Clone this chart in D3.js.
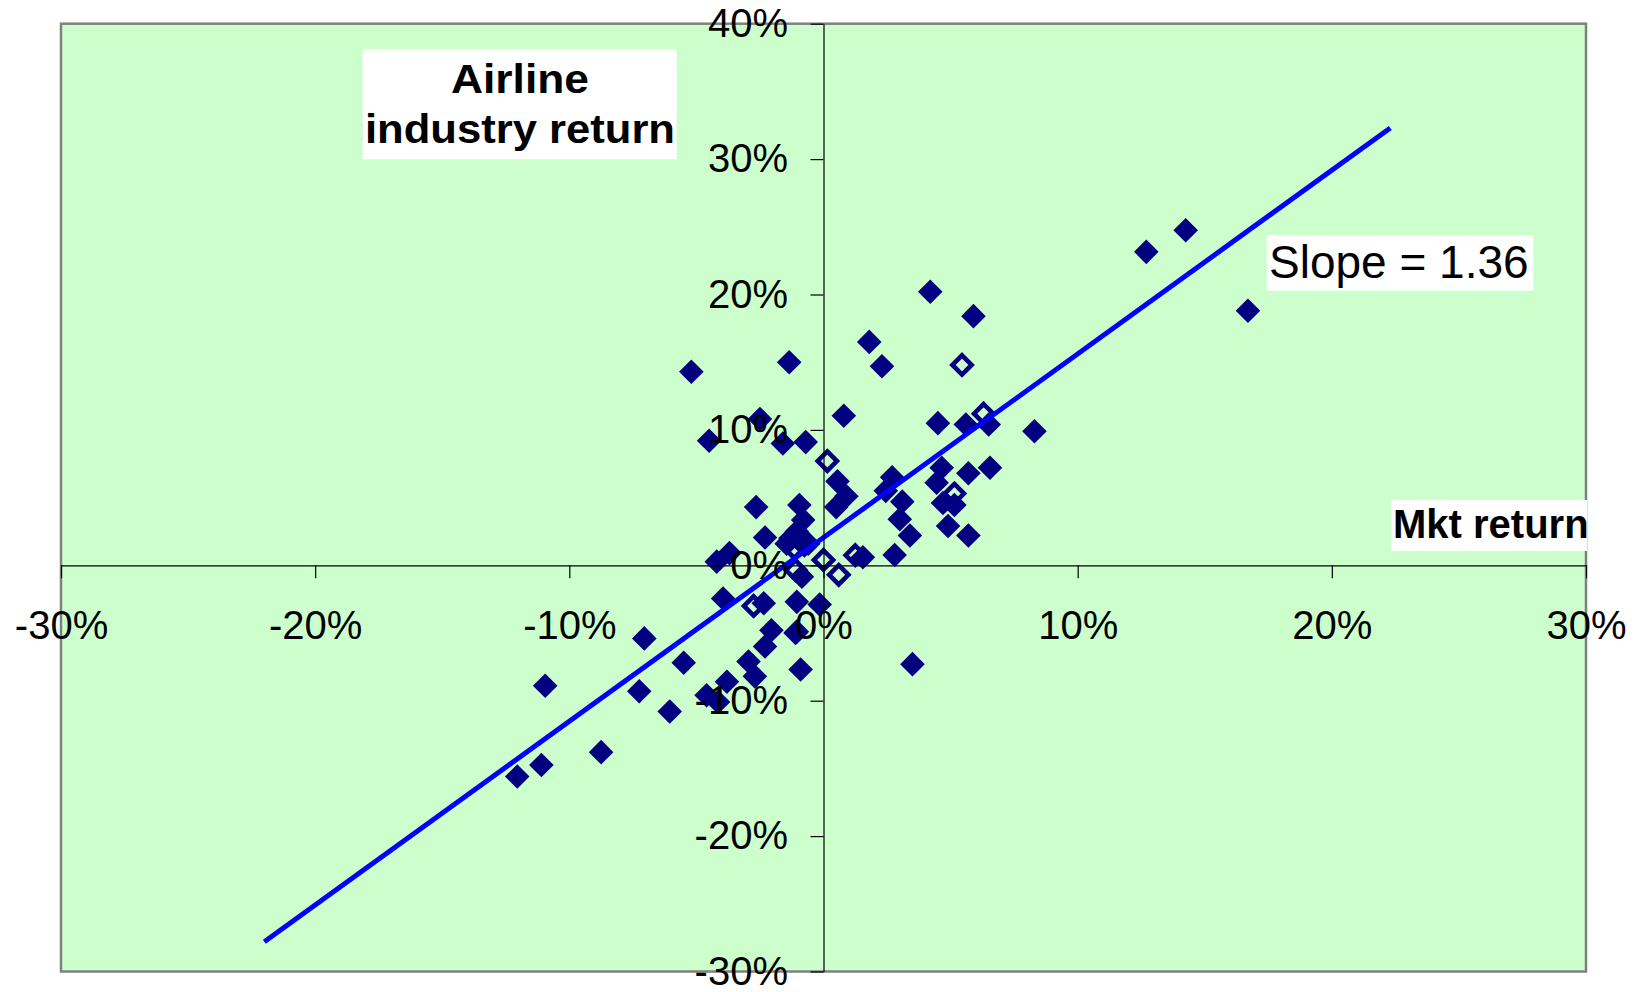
<!DOCTYPE html>
<html>
<head>
<meta charset="utf-8">
<script src="https://cdn.jsdelivr.net/npm/d3@7.9.0/dist/d3.min.js"></script>
<style>
  html, body { margin: 0; padding: 0; background: #fff; }
  svg { display: block; font-family: "Liberation Sans", Arial, sans-serif; }
</style>
</head>
<body>
<svg id="chart"></svg>
<script>
// market return vs airline industry return, in percent
const filledPoints = [
  [4.2, 20.2], [5.9, 18.4], [1.8, 16.5], [2.3, 14.7], [-5.2, 14.3], [-1.35, 15.0],
  [0.8, 11.05], [4.5, 10.5], [5.6, 10.4], [6.5, 10.4], [8.3, 9.9], [-2.5, 10.8],
  [-4.5, 9.2], [-1.6, 9.0], [-0.7, 9.1], [0.55, 6.2], [0.9, 5.1], [0.5, 4.3],
  [2.7, 6.5], [2.45, 5.5], [3.1, 4.7], [3.0, 3.4], [3.4, 2.2], [2.8, 0.76],
  [4.65, 7.2], [5.7, 6.8], [6.55, 7.2], [4.45, 6.1], [4.7, 4.6], [5.15, 4.45],
  [4.9, 2.9], [5.7, 2.2], [-2.65, 4.3], [-0.95, 4.45], [-0.8, 3.35], [-2.3, 2.05],
  [-1.05, 2.5], [-1.3, 2.0], [-1.45, 1.6], [-0.6, 1.6], [-4.2, 0.27], [-3.7, 0.9],
  [1.55, 0.6], [-0.85, -0.84], [-3.95, -2.45], [-2.35, -2.8], [-1.05, -2.7], [-0.15, -2.9],
  [-2.05, -4.8], [-1.05, -4.9], [-7.05, -5.4], [-5.5, -7.2], [-7.25, -9.3], [-6.05, -10.8],
  [-10.95, -8.9], [-8.75, -13.8], [-11.1, -14.75], [-12.05, -15.6], [-4.6, -9.6], [-4.15, -10.1],
  [-3.8, -8.6], [-2.95, -7.1], [-2.7, -8.2], [-2.3, -6.0], [-0.9, -7.7], [-1.1, -5.0],
  [3.5, -7.3], [12.7, 23.15], [14.25, 24.75], [16.7, 18.8]
];
const hollowPoints = [
  [5.45, 14.8], [6.3, 11.2], [0.15, 7.7], [5.15, 5.3], [-1.15, 1.25], [-0.75, 1.5],
  [0.0, 0.4], [0.6, -0.7], [1.25, 0.75], [-1.1, -0.35], [-2.75, -3.0]
];
// fitted line end points (mkt, airline)
const fitLine = [[-22, -27.8], [22.3, 32.3]];

const xTicks = [-30, -20, -10, 0, 10, 20, 30];
const yTicks = [-30, -20, -10, 0, 10, 20, 30, 40];

const width = 1642, height = 992;
const plotLeft = 61, plotRight = 1586, plotTop = 23.7, plotBottom = 971.5;

const svg = d3.select("#chart").attr("width", width).attr("height", height);

const x = d3.scaleLinear().domain([-30, 30]).range([plotLeft, plotRight]);
const y = d3.scaleLinear().domain([-30, 40]).range([plotBottom, plotTop]);

// plot area
svg.append("rect")
  .attr("x", plotLeft).attr("y", plotTop)
  .attr("width", plotRight - plotLeft).attr("height", plotBottom - plotTop)
  .attr("fill", "#CCFFCC")
  .attr("stroke", "#808080")
  .attr("stroke-width", 2.5);

const diamond = r => `M0,${-r}L${r},0L0,${r}L${-r},0Z`;

// markers
svg.append("g")
  .selectAll("path")
  .data(filledPoints)
  .join("path")
  .attr("transform", d => `translate(${x(d[0])},${y(d[1])})`)
  .attr("d", diamond(12.3))
  .attr("fill", "#000080");

svg.append("g")
  .selectAll("path")
  .data(hollowPoints)
  .join("path")
  .attr("transform", d => `translate(${x(d[0])},${y(d[1])})`)
  .attr("d", diamond(9.6))
  .attr("fill", "none")
  .attr("stroke", "#000080")
  .attr("stroke-width", 4.6);

// regression line
svg.append("path")
  .datum(fitLine)
  .attr("d", d3.line().x(d => x(d[0])).y(d => y(d[1])))
  .attr("stroke", "#0000FF")
  .attr("stroke-width", 5)
  .attr("fill", "none");

// axes crossing at zero
const fmt = d => d + "%";

const yAxis = svg.append("g")
  .attr("transform", `translate(${x(0)},0)`)
  .call(d3.axisLeft(y).tickValues(yTicks).tickFormat(fmt)
    .tickSize(13).tickSizeOuter(0).tickPadding(22.5));

const xAxis = svg.append("g")
  .attr("transform", `translate(0,${y(0)})`)
  .call(d3.axisBottom(x).tickValues(xTicks).tickFormat(fmt)
    .tickSize(13).tickSizeOuter(0));

xAxis.selectAll(".tick text").attr("y", 74).attr("dy", 0);

[xAxis, yAxis].forEach(g => {
  g.select(".domain").attr("stroke", "#000").attr("stroke-width", 1.2);
  g.selectAll(".tick line").attr("stroke", "#000").attr("stroke-width", 1.2);
  g.selectAll(".tick text")
    .attr("fill", "#000")
    .attr("font-size", 40)
    .attr("font-family", "'Liberation Sans', Arial, sans-serif");
});

// labels in white boxes
const labels = svg.append("g").attr("font-family", "'Liberation Sans', Arial, sans-serif");

labels.append("rect")
  .attr("x", 362.7).attr("y", 49.3).attr("width", 314).attr("height", 110)
  .attr("fill", "#fff");
labels.append("text")
  .attr("x", 520).attr("y", 93.3)
  .attr("text-anchor", "middle")
  .attr("font-size", 40).attr("font-weight", "bold")
  .attr("textLength", 138).attr("lengthAdjust", "spacingAndGlyphs")
  .text("Airline");
labels.append("text")
  .attr("x", 520).attr("y", 143.3)
  .attr("text-anchor", "middle")
  .attr("font-size", 40).attr("font-weight", "bold")
  .attr("textLength", 310).attr("lengthAdjust", "spacingAndGlyphs")
  .text("industry return");

labels.append("rect")
  .attr("x", 1391).attr("y", 500).attr("width", 196).attr("height", 51)
  .attr("fill", "#fff");
labels.append("text")
  .attr("x", 1393).attr("y", 538)
  .attr("font-size", 40).attr("font-weight", "bold")
  .text("Mkt return");

labels.append("rect")
  .attr("x", 1266.7).attr("y", 235).attr("width", 266.6).attr("height", 55.7)
  .attr("fill", "#fff");
labels.append("text")
  .attr("x", 1269).attr("y", 277.7)
  .attr("font-size", 46)
  .text("Slope = 1.36");
</script>
</body>
</html>
